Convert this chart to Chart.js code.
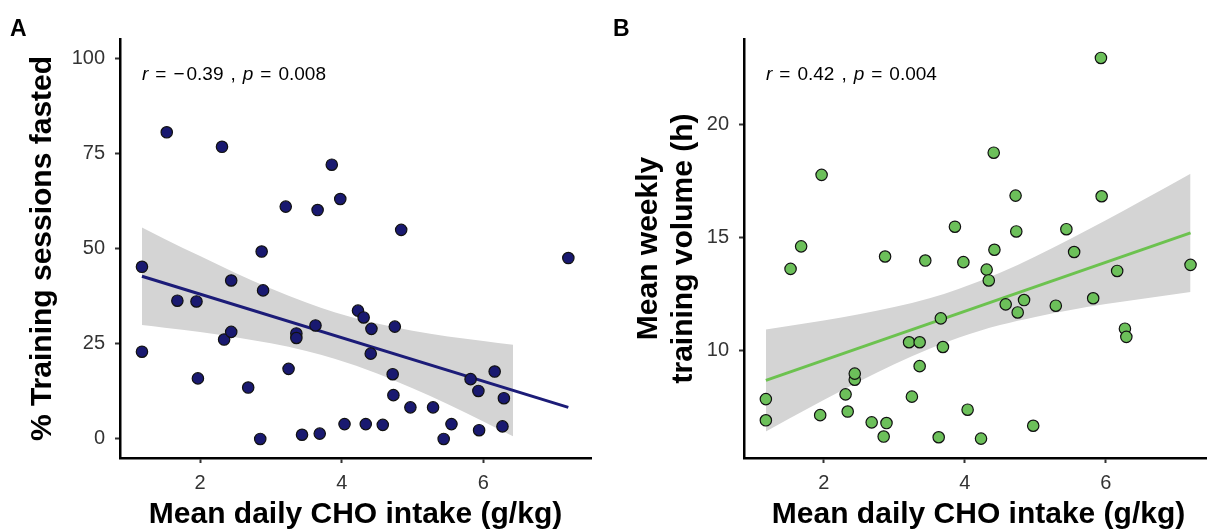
<!DOCTYPE html>
<html>
<head>
<meta charset="utf-8">
<title>CHO intake vs fasted training and training volume</title>
<script src="https://cdn.jsdelivr.net/npm/chart.js@4.4.0/dist/chart.umd.min.js"></script>
<style>
  html, body { margin: 0; padding: 0; background: #fff; width: 1207px; height: 531px; overflow: hidden; }
  canvas { position: absolute; top: 0; }
  #chartA { left: 0; }
  #chartB { left: 600px; }
</style>
</head>
<body>
<canvas id="chartA" width="600" height="531"></canvas>
<canvas id="chartB" width="620" height="531"></canvas>
<script>
// mean daily CHO intake (g/kg), one per athlete, sorted
const choIntake = [1.18, 1.18, 1.53, 1.68, 1.95, 1.97, 2.31, 2.34, 2.44, 2.44,
                   2.68, 2.85, 2.87, 2.89, 3.21, 3.25, 3.36, 3.36, 3.44, 3.63,
                   3.66, 3.69, 3.86, 3.98, 4.04, 4.23, 4.31, 4.34, 4.41, 4.42,
                   4.58, 4.72, 4.73, 4.75, 4.84, 4.97, 5.29, 5.44, 5.55, 5.82,
                   5.93, 5.94, 6.16, 6.27, 6.29, 7.20];

// panel A: % of training sessions done fasted
const fastedPct = [45.2, 22.9, 80.5, 36.3, 36.1, 15.9, 76.7, 26.1, 41.6, 28.1,
                   13.5, 0, 49.2, 39.0, 61.0, 18.4, 27.7, 26.5, 1.1, 29.8,
                   60.1, 1.4, 72.0, 63.0, 3.9, 33.7, 31.9, 3.9, 22.4, 28.9,
                   3.7, 17.0, 11.5, 29.5, 54.9, 8.3, 8.3, 0, 3.9, 15.7,
                   12.6, 2.3, 17.7, 3.3, 10.7, 47.5];

// panel B: mean weekly training volume (h)
const trainingHours = [7.84, 6.90, 13.61, 14.61, 7.13, 17.78, 8.05, 7.29, 8.70, 8.97,
                       6.81, 6.18, 14.16, 6.78, 10.36, 7.95, 10.36, 9.30, 13.98, 6.15,
                       11.42, 10.15, 15.48, 13.91, 7.37, 6.09, 13.58, 13.10, 18.76, 14.46,
                       12.04, 16.86, 15.27, 11.68, 12.23, 6.66, 11.98, 15.37, 14.36, 12.31,
                       22.96, 16.83, 13.52, 10.96, 10.60, 13.79];

// linear fit + 95% CI band
const fitLineXA = [1.18, 7.2];
const fitLineYA = [42.7, 8.3];
const bandXA = [1.18, 1.5, 2, 2.5, 3, 3.5, 3.91, 4.5, 5, 5.5, 6, 6.42];
const bandLoA = [29.9, 29.2, 28.1, 26.7, 25.1, 23.1, 21.0, 17.2, 13.3, 9.1, 4.6, 0.7];
const bandHiA = [55.5, 52.5, 48.0, 43.6, 39.5, 35.8, 33.2, 30.3, 28.4, 26.9, 25.7, 24.7];

const fitLineXB = [1.18, 7.2];
const fitLineYB = [8.67, 15.21];
const bandXB = [1.18, 1.5, 2, 2.5, 3, 3.5, 3.91, 4.5, 5, 5.5, 6, 6.5, 7.2];
const bandLoB = [6.41, 6.96, 7.80, 8.62, 9.38, 10.07, 10.56, 11.12, 11.48, 11.79, 12.05, 12.28, 12.59];
const bandHiB = [10.93, 11.08, 11.32, 11.60, 11.92, 12.31, 12.72, 13.44, 14.16, 14.95, 15.77, 16.62, 17.83];

const xTicks = [2, 4, 6];
const yTicksA = [0, 25, 50, 75, 100];
const yTicksB = [10, 15, 20];

const corrA = { r: '\u22120.39', p: '0.008' };
const corrB = { r: '0.42', p: '0.004' };

const FONT = '"Liberation Sans", Arial, Helvetica, sans-serif';
const pts = (xs, ys) => xs.map((x, i) => ({ x: x, y: ys[i] }));

// panel letter and the r / p text in the top-left corner of the plot
const statsLabel = {
    id: 'statsLabel',
    afterDraw(chart, args, opts) {
        const ctx = chart.ctx;
        const area = chart.chartArea;
        ctx.save();
        ctx.fillStyle = '#000';
        ctx.textBaseline = 'alphabetic';
        ctx.textAlign = 'left';
        ctx.font = 'bold 23px ' + FONT;
        ctx.fillText(opts.letter, opts.letterX, 36);

        const parts = [['r', true], ['=', false]];
        if (opts.r.startsWith('\u2212')) {
            parts.push(['\u2212', false, 2]);
            parts.push([opts.r.slice(1), false]);
        } else {
            parts.push([opts.r, false]);
        }
        parts.push([',', false], ['p', true], ['=', false], [opts.p, false]);

        let x = area.left + 22;
        const y = area.top + 41;
        parts.forEach(([txt, italic, gap]) => {
            ctx.font = (italic ? 'italic ' : '') + '19px ' + FONT;
            ctx.fillText(txt, x, y);
            x += ctx.measureText(txt).width + (gap === undefined ? 7 : gap);
        });
        ctx.restore();
    }
};

function axisStyle(ticks) {
    return {
        type: 'linear',
        afterBuildTicks: s => { s.ticks = ticks.map(v => ({ value: v })); },
        grid: { drawOnChartArea: false, drawTicks: true, tickLength: 5, tickWidth: 2, tickColor: '#333' },
        border: { display: true, color: '#000', width: 2.5 },
        ticks: { color: '#333', font: { family: FONT, size: 20 }, padding: 8, autoSkip: false, maxRotation: 0 }
    };
}

function makePanel(id, p) {
    const x = axisStyle(xTicks);
    x.min = 0.87; x.max = 7.52;
    x.afterFit = s => { s.height = 73; };
    x.title = { display: true, text: 'Mean daily CHO intake (g/kg)', color: '#000',
                font: { family: FONT, size: 30, weight: 'bold', lineHeight: 1 }, padding: { top: 0, bottom: 1 } };

    const y = axisStyle(p.yTicks);
    y.min = p.yMin; y.max = p.yMax;
    y.afterFit = s => { s.width = p.yWidth; };
    y.ticks.padding = 10;
    y.title = { display: true, text: p.yTitle, color: '#000',
                font: { family: FONT, size: 30, weight: 'bold', lineHeight: 1.17 }, padding: { top: p.titlePad, bottom: 0 } };

    return new Chart(document.getElementById(id), {
        type: 'scatter',
        data: {
            datasets: [
                { type: 'line', data: pts(p.bandX, p.bandLo), showLine: true, borderWidth: 0, pointRadius: 0,
                  fill: false, cubicInterpolationMode: 'monotone', order: 3 },
                { type: 'line', data: pts(p.bandX, p.bandHi), showLine: true, borderWidth: 0, pointRadius: 0,
                  fill: '-1', backgroundColor: '#d4d4d4', cubicInterpolationMode: 'monotone', order: 2 },
                { type: 'line', data: pts(p.lineX, p.lineY), showLine: true, borderColor: p.lineColor, borderWidth: 3,
                  pointRadius: 0, fill: false, order: 1 },
                { data: pts(choIntake, p.values), backgroundColor: p.pointColor, borderColor: '#111',
                  borderWidth: 1.2, pointRadius: 5.7, order: 0 }
            ]
        },
        options: {
            responsive: false,
            animation: false,
            events: [],
            layout: { padding: { top: 39, right: p.padRight, left: 0, bottom: 0 } },
            plugins: {
                legend: { display: false },
                tooltip: { enabled: false },
                statsLabel: { letter: p.letter, letterX: p.letterX, r: p.corr.r, p: p.corr.p }
            },
            scales: { x: x, y: y }
        },
        plugins: [statsLabel]
    });
}

makePanel('chartA', {
    letter: 'A', letterX: 10, corr: corrA,
    values: fastedPct, pointColor: '#191970', lineColor: '#1c1c78',
    bandX: bandXA, bandLo: bandLoA, bandHi: bandHiA, lineX: fitLineXA, lineY: fitLineYA,
    yMin: -5, yMax: 105, yTicks: yTicksA, yWidth: 120, padRight: 9, titlePad: 25,
    yTitle: '% Training sessions fasted'
});

makePanel('chartB', {
    letter: 'B', letterX: 13, corr: corrB,
    values: trainingHours, pointColor: '#6cc05a', lineColor: '#6cc24f',
    bandX: bandXB, bandLo: bandLoB, bandHi: bandHiB, lineX: fitLineXB, lineY: fitLineYB,
    yMin: 5.23, yMax: 23.8, yTicks: yTicksB, yWidth: 144, padRight: 4, titlePad: 31,
    yTitle: ['Mean weekly', 'training volume (h)']
});
</script>
</body>
</html>
